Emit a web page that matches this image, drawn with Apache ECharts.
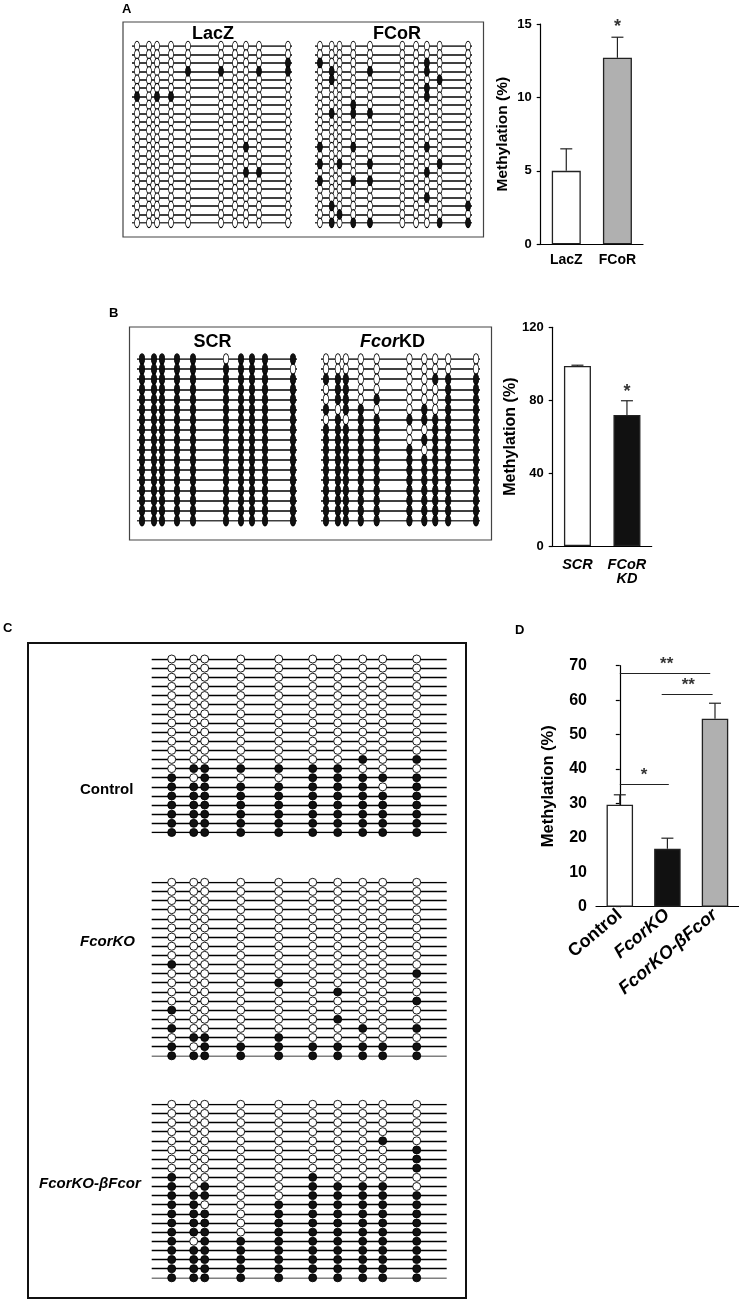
<!DOCTYPE html>
<html><head><meta charset="utf-8">
<script src="https://cdn.jsdelivr.net/npm/echarts@6/dist/echarts.min.js"></script>
<style>html,body{margin:0;padding:0;background:#fff}#c{width:739px;height:1300px}</style>
</head><body><div id="c"></div><script>
// ---------- data ----------
const cpgA = [5, 17, 25, 39, 56, 89, 103, 114, 127, 156];
const cpgB = [5, 17, 25, 40, 56, 89, 104, 115, 128, 156];
const cpgC = [20, 42, 53, 89, 127, 161, 186, 211, 231, 265];
const spanA = 160, spanB = 160, spanC = 295;

const lacZ = [
"0000000000","0000000000","0000000001","0000110011","0000000000","0000000000",
"1011000000","0000000000","0000000000","0000000000","0000000000","0000000000",
"0000000100","0000000000","0000000000","0000000110","0000000000","0000000000",
"0000000000","0000000000","0000000000","0000000000"];
const fcoR = [
"0000000000","0000000000","1000000100","0100100100","0100000010","0000000100",
"0000000100","0001000000","0101100000","0000000000","0000000000","0000000000",
"1001000100","0000000000","1010100010","0000000100","1001100000","0000000000",
"0000000100","0100000001","0010000000","0101100011"];
const scr = [
"1111101111","1111111110","1111111111","1111111111","1111111111","1111111111",
"1111111111","1111111111","1111111111","1111111111","1111111111","1111111111",
"1111111111","1111111111","1111111111","1111111111","1111111111"];
const fcorKD = [
"0000000000","0000000000","1110000111","0110000011","0110100011","1011001011",
"0101111111","1111100111","1111101111","1111110111","1111111111","1111111111",
"1111111111","1111111111","1111111111","1111111111","1111111111"];
const control = [
"0000000000","0000000000","0000000000","0000000000","0000000000","0000000000",
"0000000000","0000000000","0000000000","0000000000","0000000000","0000000101",
"0111111000","1010011111","1111111101","1111111111","1111111111","1111111111",
"1111111111","1111111111"];
const fcorKO = [
"0000000000","0000000000","0000000000","0000000000","0000000000","0000000000",
"0000000000","0000000000","0000000000","1000000000","0000000001","0000100000",
"0000001000","0000000001","1000000000","0000001000","1000000101","0110100000",
"1011111111","1111111111"];
const fcorKOb = [
"0000000000","0000000000","0000000000","0000000000","0000000010","0000000001",
"0000000001","0000000001","1000010000","1010011110","1110011111","1100111111",
"1110111111","1110111111","1110111111","1011111111","1111111111","1111111111",
"1111111111","1111111111"];

const catA = ['LacZ', 'FCoR'];
const valA = [5.0, 12.7];
const errA = [1.5, 1.4];
const ticksA = [0, 5, 10, 15];

const catB = ['SCR', 'FCoR\nKD'];
const valB = [98.8, 71.9];
const errB = [0.4, 7.8];
const ticksB = [0, 40, 80, 120];

const catD = ['Control', 'FcorKO', 'FcorKO-βFcor'];
const valD = [29.6, 16.8, 54.6];
const errD = [2.9, 3.1, 4.5];
const ticksD = [0, 10, 20, 30, 40, 50, 60, 70];

// significance brackets for D: [xFrom, xTo, y, text, textX]
const sigD = [[0, 1.9, 67.8, '**', 0.985], [0.88, 1.95, 61.7, '**', 1.44], [0, 1.03, 35.7, '*', 0.51]];
const starsA = [[1, valA[1] + errA[1]]];
const starsB = [[1, valB[1] + errB[1]]];

// ---------- build ----------
const FF = 'Liberation Sans, Arial, Helvetica, sans-serif';
const grids = [], xAxes = [], yAxes = [], series = [];

function lollipop(rows, cpg, span, box, msize, lw) {
  const gi = grids.length;
  grids.push({left: box[0], top: box[1], width: box[2], height: box[3], outerBoundsMode: 'none', containLabel: false});
  xAxes.push({type: 'value', gridIndex: gi, min: 0, max: span, show: false});
  yAxes.push({type: 'value', gridIndex: gi, min: 0, max: rows.length - 1, inverse: true, show: false});
  series.push({
    type: 'lines', coordinateSystem: 'cartesian2d', xAxisIndex: gi, yAxisIndex: gi, silent: true, z: 1,
    lineStyle: {color: '#000', width: lw, opacity: 1},
    data: rows.map((s, r) => ({coords: [[0, r], [span, r]]}))
  });
  const open = [], fill = [];
  rows.forEach((s, r) => {
    for (let c = 0; c < s.length && c < cpg.length; c++) {
      (s[c] === '1' ? fill : open).push([cpg[c], r]);
    }
  });
  [[open, '#fff'], [fill, '#111']].forEach(([d, col]) => series.push({
    type: 'scatter', xAxisIndex: gi, yAxisIndex: gi, silent: true, z: 2,
    symbol: 'circle', symbolSize: msize, data: d,
    itemStyle: {color: col, borderColor: '#000', borderWidth: 0.9, opacity: 1}
  }));
}

lollipop(lacZ, cpgA, spanA, [132, 46, 160, 176.8], [5, 9.5], 1.6);
lollipop(fcoR, cpgA, spanA, [315, 46, 157, 176.8], [5, 9.5], 1.6);
lollipop(scr, cpgB, spanB, [137, 359, 160, 161.6], [5.5, 10.5], 1.6);
lollipop(fcorKD, cpgB, spanB, [321, 359, 159, 161.6], [5.5, 10.5], 1.6);
lollipop(control, cpgC, spanC, [151.7, 659, 295, 173.5], [8, 8], 1.3);
lollipop(fcorKO, cpgC, spanC, [151.7, 882.3, 295, 173.5], [8, 8], 1.3);
lollipop(fcorKOb, cpgC, spanC, [151.7, 1104.3, 295, 173.5], [8, 8], 1.3);

const axLine = {lineStyle: {color: '#000', width: 1.2}};
function barChart(box, cats, vals, errs, ticks, colors, o) {
  const gi = grids.length;
  grids.push({left: box[0], top: box[1], width: box[2], height: box[3], outerBoundsMode: 'none', containLabel: false});
  xAxes.push({
    type: 'category', gridIndex: gi, data: cats, axisLine: axLine, axisTick: {show: false},
    axisLabel: Object.assign({color: '#000', fontFamily: FF, fontWeight: 'bold', fontSize: 14, margin: 8, interval: 0}, o.xLabel || {})
  });
  yAxes.push({
    type: 'value', gridIndex: gi, min: ticks[0], max: ticks[ticks.length - 1], interval: ticks[1] - ticks[0],
    axisLine: {show: true, lineStyle: {color: '#000', width: 1.2}},
    axisTick: {show: true, length: 4, lineStyle: {color: '#000', width: 1.2}},
    splitLine: {show: false},
    axisLabel: {color: '#000', fontFamily: FF, fontWeight: 'bold', fontSize: o.tickSize, margin: o.tickMargin},
    name: 'Methylation (%)', nameLocation: 'middle', nameGap: o.nameGap,
    nameTextStyle: {color: '#000', fontFamily: FF, fontWeight: 'bold', fontSize: o.nameSize}
  });
  series.push({
    type: 'bar', xAxisIndex: gi, yAxisIndex: gi, barWidth: o.barWidth, silent: true, z: 2,
    data: vals.map((v, i) => ({value: v, itemStyle: {color: colors[i], borderColor: '#222', borderWidth: 1.3}}))
  });
  series.push({
    type: 'custom', xAxisIndex: gi, yAxisIndex: gi, silent: true, z: 3,
    data: vals.map((v, i) => [i, v, v + errs[i]]),
    encode: {x: 0, y: [1, 2]},
    renderItem: (p, api) => {
      const a = api.coord([api.value(0), api.value(1)]);
      const b = api.coord([api.value(0), api.value(2)]);
      const st = {stroke: '#222', lineWidth: 1.2};
      return {type: 'group', children: [
        {type: 'line', shape: {x1: a[0], y1: a[1], x2: b[0], y2: b[1]}, style: st},
        {type: 'line', shape: {x1: b[0] - 6, y1: b[1], x2: b[0] + 6, y2: b[1]}, style: st}
      ]};
    }
  });
  return gi;
}

const gA = barChart([540.7, 24, 102.3, 220.3], catA, valA, errA, ticksA, ['#fff', '#b0b0b0'],
  {tickSize: 13, tickMargin: 9, nameGap: 30, nameSize: 15.5, barWidth: 29, xLabel: {margin: 9}});
series.push({type: 'scatter', xAxisIndex: gA, yAxisIndex: gA, symbolSize: 0, silent: true, data: starsA,
  label: {show: true, position: 'top', distance: 1, formatter: '*', color: '#000', fontFamily: FF, fontWeight: 'bold', fontSize: 18}});

const gB = barChart([552.7, 327.3, 99, 218.7], catB, valB, errB, ticksB, ['#fff', '#111'],
  {tickSize: 13, tickMargin: 9, nameGap: 30, nameSize: 16, barWidth: 27,
   xLabel: {fontStyle: 'italic', lineHeight: 14, fontSize: 14.5, margin: 12}});
series.push({type: 'scatter', xAxisIndex: gB, yAxisIndex: gB, symbolSize: 0, silent: true, data: starsB,
  label: {show: true, position: 'top', distance: 0, formatter: '*', color: '#000', fontFamily: FF, fontWeight: 'bold', fontSize: 18}});

const gD = barChart([596, 665.7, 142.8, 241], catD.map((c, i) => ({value: c, textStyle: {fontStyle: i ? 'italic' : 'normal'}})),
  valD, errD, ticksD, ['#fff', '#111', '#b0b0b0'],
  {tickSize: 16, tickMargin: 9, nameGap: 39, nameSize: 16.5, barWidth: 26.5,
   xLabel: {rotate: 40, fontSize: 18, margin: 6}});
// hidden value axis over the D grid for brackets
const sx = xAxes.length;
xAxes.push({type: 'value', gridIndex: gD, min: -0.5, max: 2.5, show: false});
series.push({
  type: 'lines', coordinateSystem: 'cartesian2d', xAxisIndex: sx, yAxisIndex: gD, silent: true, z: 4,
  lineStyle: {color: '#222', width: 1, opacity: 1},
  data: sigD.map(s => ({coords: [[s[0], s[2]], [s[1], s[2]]]}))
});
series.push({
  type: 'scatter', xAxisIndex: sx, yAxisIndex: gD, symbolSize: 0, silent: true, z: 4,
  data: sigD.map(s => [s[4], s[2], s[3]]),
  label: {show: true, position: 'top', distance: 0, formatter: p => p.value[2], color: '#000', fontFamily: FF, fontWeight: 'bold', fontSize: 17}
});

// ---------- frame, titles ----------
const T = (text, x, y, size, extra) => ({type: 'text', x, y, silent: true,
  style: Object.assign({text, fill: '#000', fontFamily: FF, fontWeight: 'bold', fontSize: size, align: 'left', verticalAlign: 'middle'}, extra || {})});
const graphic = [
  {type: 'rect', shape: {x: 123, y: 22, width: 360.5, height: 215}, style: {fill: 'none', stroke: '#444', lineWidth: 1.2}, silent: true},
  {type: 'rect', shape: {x: 129.5, y: 327, width: 362, height: 213}, style: {fill: 'none', stroke: '#444', lineWidth: 1.2}, silent: true},
  {type: 'rect', shape: {x: 28, y: 643, width: 438, height: 655}, style: {fill: 'none', stroke: '#111', lineWidth: 2}, silent: true},
  T('A', 122, 9, 13), T('B', 109, 313, 13), T('C', 3, 628, 13), T('D', 515, 630, 13),
  T('LacZ', 213, 34, 18, {align: 'center'}),
  T('FCoR', 397, 34, 18, {align: 'center'}),
  T('SCR', 212.5, 342, 18, {align: 'center'}),
  T('{i|Fcor}KD', 392.5, 342, 18, {align: 'center', rich: {i: {fontStyle: 'italic', fontWeight: 'bold', fontSize: 18, fontFamily: FF, fill: '#000'}}}),
  T('Control', 80, 790, 15),
  T('FcorKO', 80, 942, 15, {fontStyle: 'italic'}),
  T('FcorKO-βFcor', 39, 1184, 15, {fontStyle: 'italic'})
];

const chart = echarts.init(document.getElementById('c'), null, {renderer: 'canvas'});
chart.setOption({
  animation: false, backgroundColor: '#fff',
  grid: grids, xAxis: xAxes, yAxis: yAxes, series, graphic
});
</script></body></html>
